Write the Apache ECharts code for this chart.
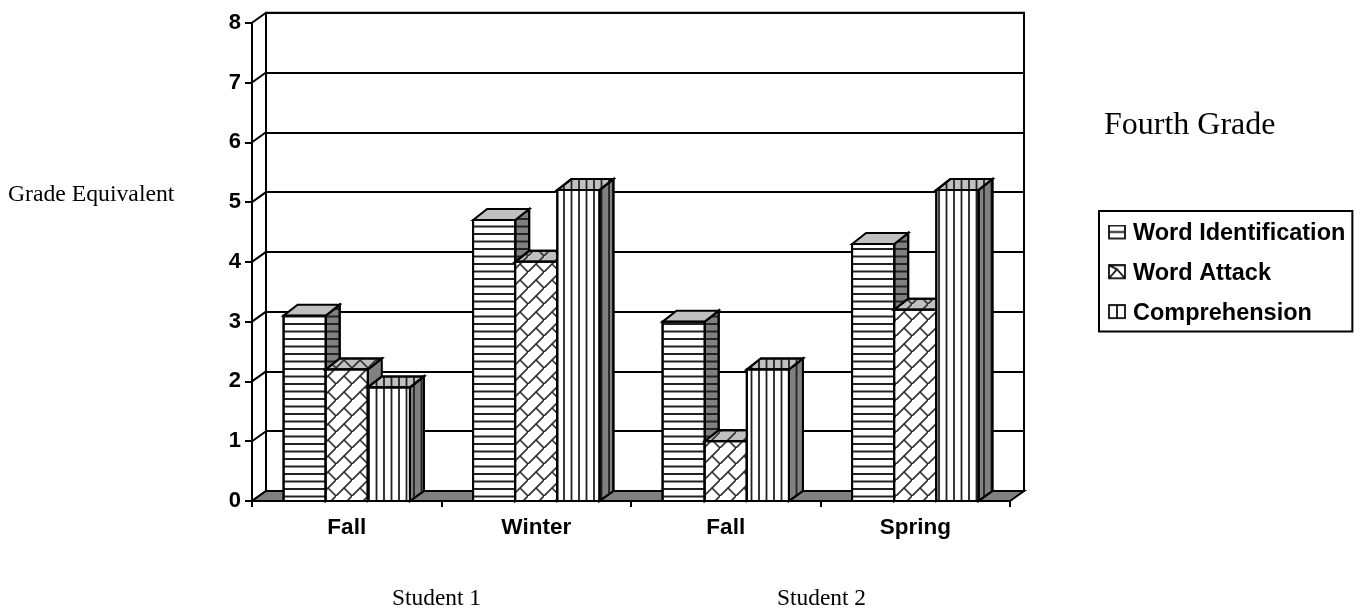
<!DOCTYPE html>
<html>
<head>
<meta charset="utf-8">
<style>html,body{margin:0;padding:0;background:#fff}#chart{width:1361px;height:611px}</style>
<script src="https://cdn.jsdelivr.net/npm/echarts@6/dist/echarts.min.js"></script>
</head>
<body>
<div id="chart"></div>
<script>
// Reading assessment results, in grade equivalents.
const terms = ['Fall', 'Winter', 'Fall', 'Spring'];
const students = ['Student 1', 'Student 2'];
const wordIdentification = [3.1, 4.7, 3.0, 4.3];
const wordAttack = [2.2, 4.0, 1.0, 3.2];
const comprehension = [1.9, 5.2, 2.2, 5.2];
const gradeTicks = [0, 1, 2, 3, 4, 5, 6, 7, 8];
const seriesNames = ['Word Identification', 'Word Attack', 'Comprehension'];

const DEPTH_X = 14, WALL_RISE = 10, BAR_RISE = 11;
const SANS = '"Liberation Sans", Arial, sans-serif';
const SERIF = '"Liberation Serif", "Times New Roman", serif';
const INK = '#000';

function tile(w, h, draw) {
  const c = document.createElement('canvas');
  c.width = w; c.height = h;
  const g = c.getContext('2d');
  g.strokeStyle = '#222';
  draw(g);
  return c;
}
const patternOf = c => ({ image: c, repeat: 'repeat' });

const hTile = tile(15, 15, g => {
  g.lineWidth = 2;
  [1.5, 9].forEach(y => { g.beginPath(); g.moveTo(0, y); g.lineTo(15, y); g.stroke(); });
});
const vTile = tile(15, 15, g => {
  g.lineWidth = 1.8;
  [1.5, 9].forEach(x => { g.beginPath(); g.moveTo(x, 0); g.lineTo(x, 15); g.stroke(); });
});
// Diagonal brick: one rising course per tile, with a falling joint between courses.
const xTile = tile(16, 16, g => {
  g.lineWidth = 1.7;
  g.strokeStyle = '#333';
  g.beginPath(); g.moveTo(-2, 18); g.lineTo(18, -2); g.stroke();
  g.beginPath(); g.moveTo(8, 8); g.lineTo(16, 16); g.stroke();
});

// Legend swatches sit high in their canvas so they line up with the bold text.
function legendIcon(draw) {
  const c = document.createElement('canvas');
  c.width = 18; c.height = 19;
  const g = c.getContext('2d');
  g.strokeStyle = '#000'; g.lineWidth = 1.7;
  g.strokeRect(1, 1, 16, 13);
  g.beginPath(); draw(g); g.stroke();
  return 'image://' + c.toDataURL();
}
const icons = [
  legendIcon(g => { g.moveTo(1, 7.5); g.lineTo(17, 7.5); }),
  legendIcon(g => { g.moveTo(1, 14); g.lineTo(9, 5); g.lineTo(17, 14); g.moveTo(1, 1); g.lineTo(9, 5); }),
  legendIcon(g => { g.moveTo(9, 1); g.lineTo(9, 14); })
];

const faceStyles = [
  { front: patternOf(hTile), side: patternOf(hTile), top: null },
  { front: patternOf(xTile), side: null, top: patternOf(xTile) },
  { front: patternOf(vTile), side: patternOf(vTile), top: patternOf(vTile) }
];

function poly(points, fill) {
  return {
    type: 'polygon',
    shape: { points },
    style: { fill, stroke: INK, lineWidth: 2, lineJoin: 'miter' }
  };
}

function barSeries(index, values) {
  const look = faceStyles[index];
  return {
    type: 'custom',
    name: seriesNames[index],
    xAxisIndex: 1,
    yAxisIndex: 1,
    z: 5,
    clip: false,
    silent: true,
    itemStyle: { color: '#fff' },
    encode: { x: 0, y: 1 },
    data: values.map((v, i) => [i, v]),
    renderItem(params, api) {
      const i = api.value(0), v = api.value(1);
      const band = api.size([1, 0])[0];
      const w = band * 2 / 9;
      const top = api.coord([i, v]);
      const base = api.coord([i, 0]);
      const l = top[0] - 1.5 * w + index * w, r = l + w;
      const t = top[1], b = base[1];
      const dx = DEPTH_X, dy = BAR_RISE;
      const sidePts = [[r, t], [r + dx, t - dy], [r + dx, b - dy + 1], [r, b]];
      const topPts = [[l, t], [l + dx, t - dy], [r + dx, t - dy], [r, t]];
      const frontPts = [[l, t], [r, t], [r, b], [l, b]];
      const children = [poly(sidePts, '#808080')];
      if (look.side) children.push(poly(sidePts, look.side));
      children.push(poly(topPts, '#c0c0c0'));
      if (look.top) children.push(poly(topPts, look.top));
      children.push(poly(frontPts, '#fff'));
      children.push(poly(frontPts, look.front));
      return { type: 'group', children };
    }
  };
}

const captionStyle = size => ({ fontFamily: SERIF, fontWeight: 'normal', fontSize: size, color: INK });

const option = {
  animation: false,
  backgroundColor: '#fff',
  textStyle: { fontFamily: SANS },
  title: [
    { text: 'Fourth Grade', left: 1104, top: 110, padding: 0, textStyle: captionStyle(32) },
    { text: 'Grade Equivalent', left: 8, top: 183, padding: 0, textStyle: captionStyle(23.7) },
    { text: students[0], left: 392, top: 587, padding: 0, textStyle: captionStyle(23.4) },
    { text: students[1], left: 777, top: 587, padding: 0, textStyle: captionStyle(23.4) }
  ],
  legend: {
    orient: 'vertical',
    left: 1099,
    top: 211,
    padding: [11, 7, 6, 9],
    itemGap: 15.8,
    itemWidth: 18,
    itemHeight: 19,
    borderColor: INK,
    borderWidth: 2,
    selectedMode: false,
    data: seriesNames.map((name, i) => ({ name, icon: icons[i] })),
    textStyle: { fontFamily: SANS, fontWeight: 'bold', fontSize: 23.5, lineHeight: 24, color: INK, padding: [0, 0, 0, 2] }
  },
  grid: [
    { left: 266, top: 12.7, width: 758, height: 478.3, show: true, borderColor: INK, borderWidth: 2, backgroundColor: '#fff' },
    { left: 252, top: 22.7, width: 758, height: 478.3 }
  ],
  xAxis: [
    { gridIndex: 0, type: 'category', data: terms, show: false },
    {
      gridIndex: 1, type: 'category', data: terms,
      axisLine: { lineStyle: { color: INK, width: 2 } },
      axisTick: { show: true, length: 6, alignWithLabel: false, lineStyle: { color: INK, width: 2 } },
      axisLabel: { color: INK, fontWeight: 'bold', fontSize: 22.5, fontFamily: SANS, margin: 15 }
    }
  ],
  yAxis: [
    {
      gridIndex: 0, type: 'value', min: 0, max: 8, interval: 1,
      axisLine: { show: false }, axisTick: { show: false }, axisLabel: { show: false },
      splitLine: { show: true, lineStyle: { color: INK, width: 2 } }
    },
    {
      gridIndex: 1, type: 'value', min: 0, max: 8, interval: 1,
      axisLine: { show: true, lineStyle: { color: INK, width: 2 } },
      axisTick: { show: true, length: 7, lineStyle: { color: INK, width: 2 } },
      axisLabel: { color: INK, fontWeight: 'bold', fontSize: 22, fontFamily: SANS, margin: 11, padding: [0, 0, 4, 0] },
      splitLine: { show: false }
    }
  ],
  series: [
    {
      // Side wall rungs joining the front axis ticks to the back wall grid.
      type: 'custom',
      xAxisIndex: 1, yAxisIndex: 1, z: 3, silent: true, clip: false,
      encode: { y: 0 },
      data: gradeTicks.map(v => [v]),
      renderItem(params, api) {
        const p = api.coord([0, api.value(0)]);
        const x0 = p[0] - api.size([1, 0])[0] / 2;
        return {
          type: 'line',
          shape: { x1: x0, y1: p[1], x2: x0 + DEPTH_X, y2: p[1] - WALL_RISE },
          style: { stroke: INK, lineWidth: 2 }
        };
      }
    },
    {
      // Floor of the plot box.
      type: 'custom',
      xAxisIndex: 1, yAxisIndex: 1, z: 4, silent: true, clip: false,
      data: [[0]],
      encode: { x: 0 },
      renderItem(params, api) {
        const band = api.size([1, 0])[0];
        const a = api.coord([0, 0]);
        const z = api.coord([terms.length - 1, 0]);
        const l = a[0] - band / 2, r = z[0] + band / 2, b = a[1];
        return poly([[l, b], [r, b], [r + DEPTH_X, b - WALL_RISE], [l + DEPTH_X, b - WALL_RISE]], '#808080');
      }
    },
    barSeries(0, wordIdentification),
    barSeries(1, wordAttack),
    barSeries(2, comprehension)
  ]
};

const chart = echarts.init(document.getElementById('chart'), null, { renderer: 'canvas' });
chart.setOption(option);
</script>
</body>
</html>
